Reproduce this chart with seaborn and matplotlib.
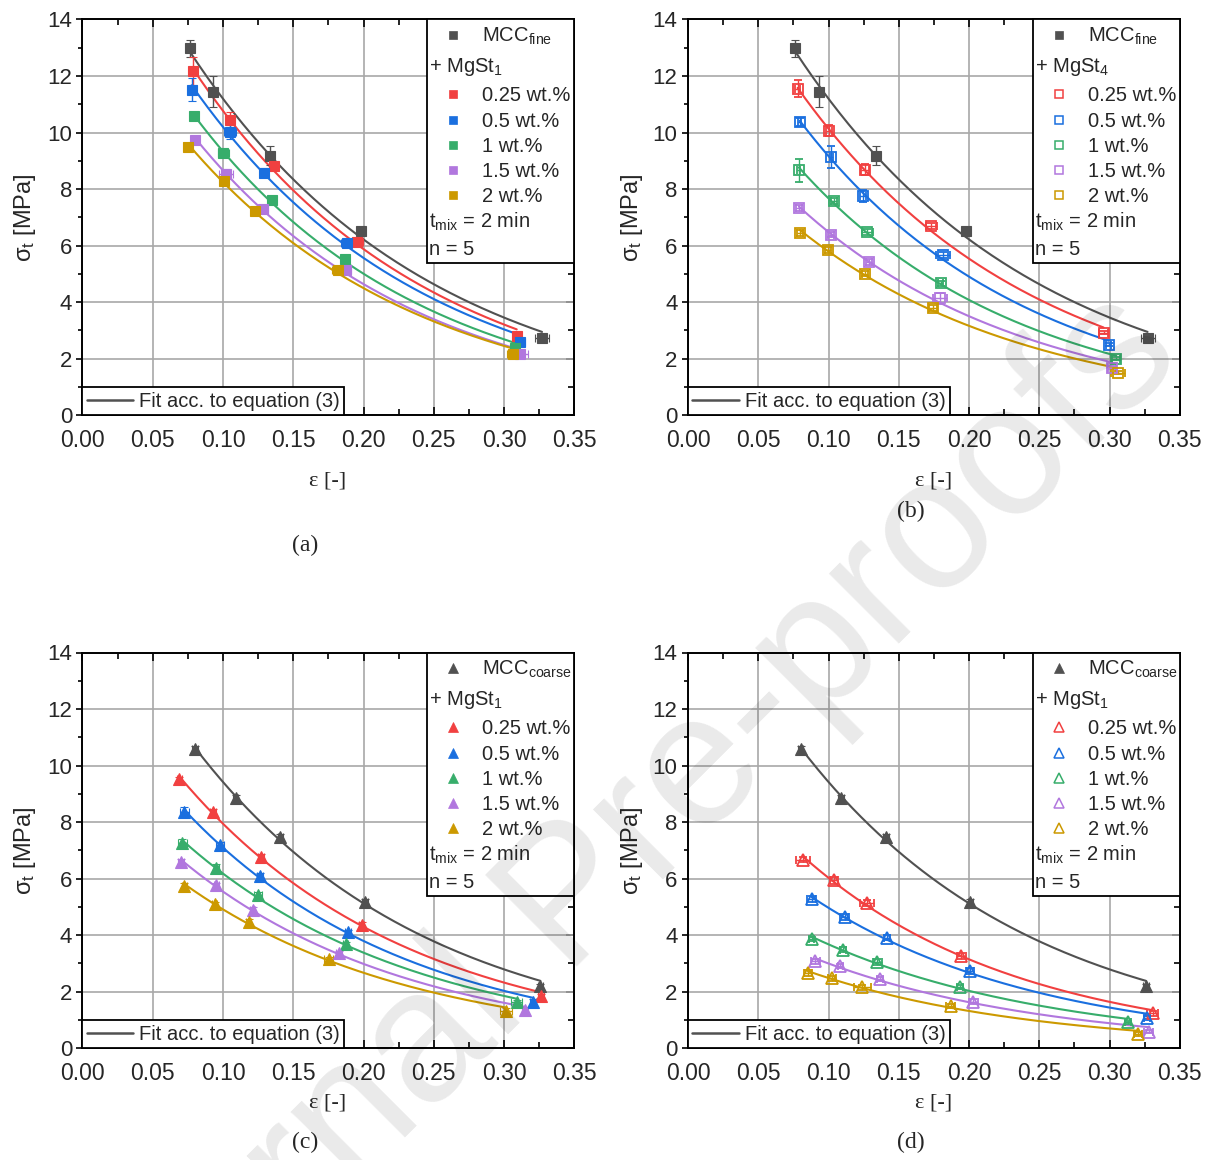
import numpy as np
import matplotlib
matplotlib.use("Agg")
import matplotlib.pyplot as plt
import seaborn as sns
from matplotlib.lines import Line2D
from matplotlib.patches import Rectangle
from matplotlib.ticker import MultipleLocator, FormatStrFormatter

sns.set_theme(style="white")
plt.rcParams['font.family'] = ['Liberation Sans', 'DejaVu Sans']
plt.rcParams['mathtext.fontset'] = 'custom'
plt.rcParams['mathtext.rm'] = 'Liberation Sans'
plt.rcParams['mathtext.it'] = 'Liberation Sans:italic'
plt.rcParams['mathtext.bf'] = 'Liberation Sans:bold'

# ---------------- data ----------------
series_labels = ["MCC", "0.25 wt.%", "0.5 wt.%", "1 wt.%", "1.5 wt.%", "2 wt.%"]
colors = ["#515151", "#F14040", "#1A6FDF", "#37AD6B", "#B177DE", "#CC9900"]

# (a) MCC fine + MgSt1
a_eps = [[0.0765, 0.0931, 0.1336, 0.1979, 0.3270],
         [0.0784, 0.1050, 0.1365, 0.1955, 0.3090],
         [0.0777, 0.1050, 0.1294, 0.1880, 0.3116],
         [0.0791, 0.1002, 0.1346, 0.1870, 0.3076],
         [0.0803, 0.1019, 0.1287, 0.1872, 0.3110],
         [0.0749, 0.1007, 0.1227, 0.1815, 0.3064]]
a_sig = [[12.98, 11.44, 9.18, 6.52, 2.74],
         [12.17, 10.43, 8.81, 6.12, 2.80],
         [11.52, 10.01, 8.58, 6.10, 2.60],
         [10.59, 9.28, 7.60, 5.54, 2.38],
         [9.75, 8.55, 7.28, 5.13, 2.17],
         [9.50, 8.28, 7.23, 5.13, 2.18]]
a_eps_err = [[0.001, 0.002, 0.002, 0.002, 0.005],
             [0.001, 0.002, 0.002, 0.004, 0.003],
             [0.001, 0.004, 0.002, 0.004, 0.003],
             [0.001, 0.004, 0.002, 0.002, 0.003],
             [0.001, 0.005, 0.003, 0.004, 0.006],
             [0.001, 0.002, 0.003, 0.004, 0.004]]
a_sig_err = [[0.30, 0.55, 0.34, 0.10, 0.05],
             [0.50, 0.30, 0.15, 0.10, 0.05],
             [0.42, 0.25, 0.15, 0.10, 0.05],
             [0.10, 0.10, 0.10, 0.05, 0.05],
             [0.10, 0.15, 0.10, 0.10, 0.05],
             [0.10, 0.10, 0.10, 0.10, 0.05]]

# (b) MCC fine + MgSt4
b_eps = [[0.0765, 0.0931, 0.1336, 0.1979, 0.3270],
         [0.0780, 0.1002, 0.1258, 0.1732, 0.2957],
         [0.0796, 0.1019, 0.1246, 0.1815, 0.2993],
         [0.0789, 0.1040, 0.1277, 0.1798, 0.3047],
         [0.0789, 0.1019, 0.1289, 0.1796, 0.3017],
         [0.0796, 0.0998, 0.1258, 0.1742, 0.3057]]
b_sig = [[12.98, 11.44, 9.18, 6.52, 2.74],
         [11.55, 10.07, 8.69, 6.69, 2.92],
         [10.37, 9.13, 7.75, 5.66, 2.50],
         [8.66, 7.57, 6.48, 4.66, 2.00],
         [7.34, 6.39, 5.43, 4.13, 1.68],
         [6.45, 5.84, 5.01, 3.79, 1.50]]
b_eps_err = [[0.001, 0.002, 0.002, 0.002, 0.005],
             [0.002, 0.002, 0.003, 0.004, 0.003],
             [0.001, 0.001, 0.002, 0.005, 0.002],
             [0.001, 0.002, 0.004, 0.002, 0.003],
             [0.002, 0.002, 0.002, 0.005, 0.003],
             [0.002, 0.002, 0.002, 0.003, 0.005]]
b_sig_err = [[0.30, 0.55, 0.34, 0.10, 0.05],
             [0.30, 0.20, 0.20, 0.10, 0.05],
             [0.15, 0.40, 0.20, 0.10, 0.05],
             [0.40, 0.10, 0.10, 0.10, 0.05],
             [0.10, 0.10, 0.10, 0.20, 0.05],
             [0.10, 0.10, 0.10, 0.10, 0.05]]

# (c) MCC coarse + MgSt1
c_eps = [[0.0801, 0.1090, 0.1408, 0.2009, 0.3258],
         [0.0690, 0.0931, 0.1270, 0.1986, 0.3263],
         [0.0725, 0.0979, 0.1265, 0.1891, 0.3206],
         [0.0711, 0.0953, 0.1251, 0.1872, 0.3090],
         [0.0701, 0.0953, 0.1211, 0.1827, 0.3147],
         [0.0725, 0.0941, 0.1182, 0.1751, 0.3014]]
c_sig = [[10.58, 8.86, 7.48, 5.18, 2.19],
         [9.51, 8.37, 6.77, 4.37, 1.85],
         [8.37, 7.18, 6.10, 4.11, 1.65],
         [7.26, 6.38, 5.43, 3.67, 1.62],
         [6.59, 5.76, 4.90, 3.36, 1.36],
         [5.75, 5.09, 4.46, 3.16, 1.33]]
c_eps_err = [[0.002, 0.002, 0.002, 0.002, 0.002],
             [0.002, 0.002, 0.002, 0.002, 0.002],
             [0.003, 0.003, 0.002, 0.002, 0.002],
             [0.003, 0.002, 0.003, 0.002, 0.004],
             [0.002, 0.002, 0.002, 0.002, 0.002],
             [0.002, 0.002, 0.002, 0.003, 0.004]]
c_sig_err = [[0.10, 0.10, 0.10, 0.10, 0.08],
             [0.10, 0.10, 0.10, 0.08, 0.08],
             [0.15, 0.10, 0.10, 0.08, 0.08],
             [0.15, 0.12, 0.10, 0.10, 0.08],
             [0.10, 0.10, 0.10, 0.08, 0.08],
             [0.10, 0.08, 0.10, 0.08, 0.10]]

# (d) MCC coarse + MgSt1 (open symbols)
d_eps = [[0.0801, 0.1090, 0.1408, 0.2009, 0.3258],
         [0.0818, 0.1038, 0.1275, 0.1945, 0.3306],
         [0.0879, 0.1114, 0.1417, 0.2005, 0.3265],
         [0.0879, 0.1104, 0.1348, 0.1934, 0.3130],
         [0.0907, 0.1085, 0.1365, 0.2031, 0.3277],
         [0.0853, 0.1026, 0.1239, 0.1869, 0.3202]]
d_sig = [[10.58, 8.86, 7.48, 5.18, 2.19],
         [6.67, 5.94, 5.14, 3.26, 1.23],
         [5.28, 4.64, 3.91, 2.72, 1.07],
         [3.86, 3.49, 3.05, 2.16, 0.91],
         [3.07, 2.90, 2.45, 1.65, 0.59],
         [2.67, 2.47, 2.15, 1.49, 0.50]]
d_eps_err = [[0.002, 0.002, 0.002, 0.002, 0.002],
             [0.005, 0.003, 0.005, 0.003, 0.004],
             [0.003, 0.003, 0.002, 0.003, 0.002],
             [0.002, 0.002, 0.003, 0.002, 0.002],
             [0.003, 0.002, 0.002, 0.003, 0.003],
             [0.003, 0.003, 0.006, 0.003, 0.003]]
d_sig_err = [[0.10, 0.10, 0.10, 0.10, 0.08],
             [0.10, 0.12, 0.10, 0.10, 0.08],
             [0.10, 0.10, 0.10, 0.10, 0.08],
             [0.08, 0.08, 0.10, 0.08, 0.06],
             [0.10, 0.08, 0.08, 0.08, 0.06],
             [0.10, 0.08, 0.08, 0.08, 0.06]]

panels = [
    dict(rect=[0.0679, 0.6421, 0.4052, 0.3411], eps=a_eps, sig=a_sig, ee=a_eps_err, se=a_sig_err,
         marker='s', open=False, base="MCC$_{\\mathrm{fine}}$", add="+ MgSt$_{\\mathrm{1}}$",
         ylab=(0.0206, 0.8125), xlab=(0.2702, 0.5855), tag=(0.2512, 0.530), tagtext="(a)"),
    dict(rect=[0.5667, 0.6421, 0.4052, 0.3411], eps=b_eps, sig=b_sig, ee=b_eps_err, se=b_sig_err,
         marker='s', open=True, base="MCC$_{\\mathrm{fine}}$", add="+ MgSt$_{\\mathrm{4}}$",
         ylab=(0.5206, 0.8125), xlab=(0.7693, 0.5855), tag=(0.7504, 0.5595), tagtext="(b)"),
    dict(rect=[0.0679, 0.0964, 0.4052, 0.3411], eps=c_eps, sig=c_sig, ee=c_eps_err, se=c_sig_err,
         marker='^', open=False, base="MCC$_{\\mathrm{coarse}}$", add="+ MgSt$_{\\mathrm{1}}$",
         ylab=(0.0206, 0.2668), xlab=(0.2702, 0.0492), tag=(0.2512, 0.0155), tagtext="(c)"),
    dict(rect=[0.5667, 0.0964, 0.4052, 0.3411], eps=d_eps, sig=d_sig, ee=d_eps_err, se=d_sig_err,
         marker='^', open=True, base="MCC$_{\\mathrm{coarse}}$", add="+ MgSt$_{\\mathrm{1}}$",
         ylab=(0.5206, 0.2668), xlab=(0.7693, 0.0492), tag=(0.7504, 0.0155), tagtext="(d)"),
]

FS = 14.5
fig = plt.figure(figsize=(12.14, 11.6), dpi=100)
fig.patch.set_facecolor('white')

for p in panels:
    ax = fig.add_axes(p['rect'])
    ax.set_facecolor('none')
    ax.set_xlim(0, 0.35)
    ax.set_ylim(0, 14)
    ax.xaxis.set_major_locator(MultipleLocator(0.05))
    ax.xaxis.set_minor_locator(MultipleLocator(0.025))
    ax.xaxis.set_major_formatter(FormatStrFormatter('%.2f'))
    ax.yaxis.set_major_locator(MultipleLocator(2))
    ax.yaxis.set_minor_locator(MultipleLocator(1))
    ax.grid(True, which='major', color='#a8a8a8', lw=1.2)
    ax.set_axisbelow(True)
    for s in ax.spines.values():
        s.set_color('black')
        s.set_linewidth(1.4)
    ax.tick_params(axis='x', which='both', direction='in', top=True, bottom=True,
                   color='black', width=1.2)
    ax.tick_params(axis='x', which='major', length=6, labelsize=16.5, pad=10)
    ax.tick_params(axis='x', which='minor', length=4)
    ax.tick_params(axis='y', which='both', direction='out', left=True, right=False,
                   color='black', width=1.2)
    ax.tick_params(axis='y', which='major', length=4.5, labelsize=16, pad=3)
    ax.tick_params(axis='y', which='minor', length=3)
    sec = ax.secondary_yaxis('right')
    sec.yaxis.set_major_locator(MultipleLocator(2))
    sec.yaxis.set_minor_locator(MultipleLocator(1))
    sec.tick_params(which='both', direction='in', labelright=False, color='black', width=1.2)
    sec.tick_params(which='major', length=6)
    sec.tick_params(which='minor', length=4)
    sec.spines['right'].set_linewidth(1.4)

    for i, c in enumerate(colors):
        x = np.array(p['eps'][i])
        y = np.array(p['sig'][i])
        # exponential fit (equation 3)
        k, lnA = np.polyfit(x, np.log(y), 1, w=y)
        xf = np.linspace(x.min(), x.max(), 200)
        yf = np.exp(lnA + k * xf)
        sns.lineplot(x=xf, y=yf, ax=ax, color=c, lw=1.5, zorder=3, legend=False)
        is_open = p['open'] and i > 0
        ms = 7.5 if p['marker'] == 's' else 8.0
        ax.errorbar(x, y, xerr=p['ee'][i], yerr=p['se'][i], fmt=p['marker'], ms=ms,
                    mfc='none' if is_open else c, mec=c, mew=1.3 if is_open else 0.8,
                    ecolor=c, elinewidth=1.0, capsize=3, capthick=1.0, zorder=4)

    # bottom-left fit legend
    leg = ax.legend(handles=[Line2D([], [], color=colors[0], lw=1.8)],
                    labels=["Fit acc. to equation (3)"], loc='lower left',
                    bbox_to_anchor=(0, 0), borderaxespad=0, fontsize=FS, frameon=True,
                    fancybox=False, edgecolor='black', framealpha=1, borderpad=0.22,
                    handlelength=2.3, handletextpad=0.3)
    leg.get_frame().set_linewidth(1.3)

    # top-right legend box
    ax.add_patch(Rectangle((0.701, 0.384), 0.299, 0.616, transform=ax.transAxes,
                           fc='white', ec='black', lw=1.3, zorder=5, clip_on=False))
    rows = [0.961, 0.885, 0.811, 0.746, 0.683, 0.620, 0.557, 0.493, 0.422]
    off = 0.0182
    mx, tx, px = 0.754, 0.813, 0.705
    lab = [p['base']] + series_labels[1:]
    row_idx = [0, 2, 3, 4, 5, 6]
    for j, (ri, c) in enumerate(zip(row_idx, colors)):
        is_open = p['open'] and j > 0
        lms = 6.0 if p['marker'] == 's' else 7.0
        ax.plot([mx], [rows[ri]], marker=p['marker'], ms=lms, ls='none',
                mfc='none' if is_open else c, mec=c, mew=1.1 if is_open else 0.5,
                transform=ax.transAxes, clip_on=False, zorder=6)
        ax.text(tx, rows[ri] - off, lab[j], transform=ax.transAxes, fontsize=FS,
                ha='left', va='baseline', zorder=6)
    ax.text(px, rows[1] - off, p['add'], transform=ax.transAxes, fontsize=FS,
            ha='left', va='baseline', zorder=6)
    ax.text(px, rows[7] - off, "t$_{\\mathrm{mix}}$ = 2 min", transform=ax.transAxes,
            fontsize=FS, ha='left', va='baseline', zorder=6)
    ax.text(px, rows[8] - off, "n = 5", transform=ax.transAxes, fontsize=FS,
            ha='left', va='baseline', zorder=6)

    ax.set_xlabel("")
    ax.set_ylabel("")
    fig.text(p['ylab'][0], p['ylab'][1], "σ$_{\\mathrm{t}}$ [MPa]", rotation=90,
             ha='center', va='center', fontsize=17)
    fig.text(p['xlab'][0], p['xlab'][1], "ε [-]", ha='center', va='center',
             fontsize=16, family=['Liberation Serif', 'DejaVu Serif'])
    fig.text(p['tag'][0], p['tag'][1], p['tagtext'], ha='center', va='center',
             fontsize=17, family=['Liberation Serif', 'DejaVu Serif'])

# journal watermark
fig.text(0.499, 0.251, "Journal Pre-proofs", rotation=45, fontsize=135, color='black',
         alpha=0.085, ha='center', va='center', zorder=1000)

fig.savefig("out.png", dpi=100)
